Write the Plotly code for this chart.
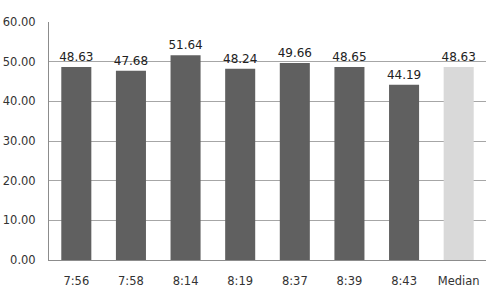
import plotly.graph_objects as go

categories = ["7:56", "7:58", "8:14", "8:19", "8:37", "8:39", "8:43", "Median"]
values = [48.63, 47.68, 51.64, 48.24, 49.66, 48.65, 44.19, 48.63]
colors = ["#606060"] * 7 + ["#d9d9d9"]
y_ticks = [0, 10, 20, 30, 40, 50, 60]

fig = go.Figure(go.Bar(
    x=categories, y=values, marker=dict(color=colors, line=dict(width=0)),
    texttemplate="%{y:.2f}", textposition="outside", cliponaxis=False,
    constraintext="none",
    textfont=dict(family="DejaVu Sans", size=12, color="#222222"),
))
fig.update_layout(
    width=492, height=290, margin=dict(l=49, r=6, t=22, b=30),
    paper_bgcolor="white", plot_bgcolor="white", bargap=0.45,
    showlegend=False,
    font=dict(family="DejaVu Sans", size=11.5, color="#333333"),
)
fig.update_yaxes(range=[0, 60], tickvals=y_ticks, tickformat=".2f",
                 showgrid=True, gridcolor="#a6a6a6", gridwidth=1,
                 showline=True, linecolor="#8c8c8c", linewidth=1,
                 ticks="outside", ticklen=10, tickcolor="rgba(0,0,0,0)",
                 zeroline=False, automargin=False)
fig.update_xaxes(showline=True, linecolor="#8c8c8c", linewidth=1,
                 ticks="outside", ticklen=10, tickcolor="rgba(0,0,0,0)",
                 automargin=False)
fig.write_html("out.html")
